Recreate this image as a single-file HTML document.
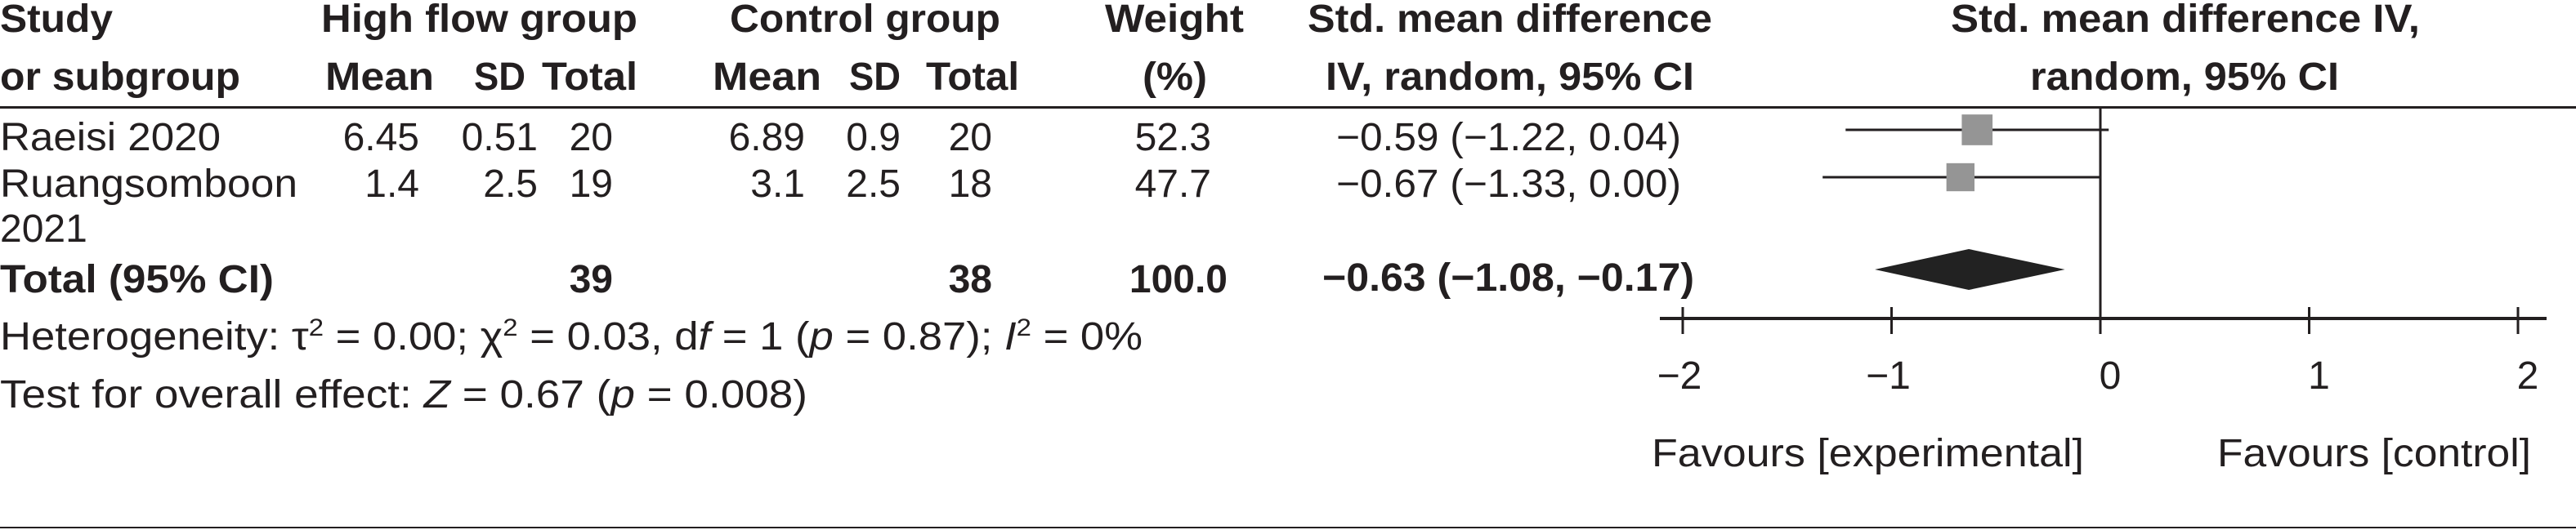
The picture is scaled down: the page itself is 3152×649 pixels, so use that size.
<!DOCTYPE html>
<html><head><meta charset="utf-8"><style>
html,body{margin:0;padding:0;background:#fff;}
svg{display:block;}
text{font-family:"Liberation Sans Narrow","Liberation Sans",sans-serif;font-size:48px;fill:#231f20;}
.b{font-weight:bold;}
</style></head><body>
<svg id="fp" width="3152" height="649" viewBox="0 0 3152 649" xmlns="http://www.w3.org/2000/svg">
<g id="hdr" class="b">
<text x="0" y="39" textLength="138" lengthAdjust="spacingAndGlyphs" class="b">Study</text>
<text x="0" y="110" textLength="294" lengthAdjust="spacingAndGlyphs" class="b">or subgroup</text>
<text x="393" y="39" textLength="387" lengthAdjust="spacingAndGlyphs" class="b">High flow group</text>
<text x="398" y="110" textLength="133" lengthAdjust="spacingAndGlyphs" class="b">Mean</text>
<text x="580" y="110" textLength="63" lengthAdjust="spacingAndGlyphs" class="b">SD</text>
<text x="663" y="110" textLength="117" lengthAdjust="spacingAndGlyphs" class="b">Total</text>
<text x="893" y="39" textLength="331" lengthAdjust="spacingAndGlyphs" class="b">Control group</text>
<text x="872" y="110" textLength="133" lengthAdjust="spacingAndGlyphs" class="b">Mean</text>
<text x="1039" y="110" textLength="63" lengthAdjust="spacingAndGlyphs" class="b">SD</text>
<text x="1133" y="110" textLength="114" lengthAdjust="spacingAndGlyphs" class="b">Total</text>
<text x="1352" y="39" textLength="170" lengthAdjust="spacingAndGlyphs" class="b">Weight</text>
<text x="1398" y="110" textLength="79" lengthAdjust="spacingAndGlyphs" class="b">(%)</text>
<text x="1600" y="39" textLength="495" lengthAdjust="spacingAndGlyphs" class="b">Std. mean difference</text>
<text x="1622" y="110" textLength="451" lengthAdjust="spacingAndGlyphs" class="b">IV, random, 95% CI</text>
<text x="2387" y="39" textLength="574" lengthAdjust="spacingAndGlyphs" class="b">Std. mean difference IV,</text>
<text x="2484" y="110" textLength="378" lengthAdjust="spacingAndGlyphs" class="b">random, 95% CI</text>
</g>
<rect x="0" y="130" width="3152" height="3" fill="#231f20"/>
<rect x="0" y="645" width="3152" height="2" fill="#231f20"/>
<g id="rows"></g>
<g id="foot">
<text x="0" y="428" textLength="1398" lengthAdjust="spacingAndGlyphs">Heterogeneity: τ<tspan font-size="30" dy="-17">2</tspan><tspan dy="17"> = 0.00; χ</tspan><tspan font-size="30" dy="-17">2</tspan><tspan dy="17"> = 0.03, d</tspan><tspan font-style="italic">f</tspan> = 1 (<tspan font-style="italic">p</tspan> = 0.87); <tspan font-style="italic">I</tspan><tspan font-size="30" dy="-17">2</tspan><tspan dy="17"> = 0%</tspan></text>
<text x="0" y="499" textLength="988" lengthAdjust="spacingAndGlyphs">Test for overall effect: <tspan font-style="italic">Z</tspan> = 0.67 (<tspan font-style="italic">p</tspan> = 0.008)</text>
</g>
<g id="plot"></g>
</svg>
<script>
// data
const studies = ["Raeisi 2020", "Ruangsomboon"];
const hfMean = ["6.45", "1.4"];
const hfSD = ["0.51", "2.5"];
const hfN = [20, 19];
const ctMean = ["6.89", "3.1"];
const ctSD = ["0.9", "2.5"];
const ctN = [20, 18];
const weights = [52.3, 47.7];
const smd = [-0.59, -0.67];
const ciLow = [-1.22, -1.33];
const ciHigh = [0.04, 0.00];
const totalSMD = -0.63;
const totalLow = -1.08;
const totalHigh = -0.17;
const ticks = [-2, -1, 0, 1, 2];
const tickLabels = ["−2", "−1", "0", "1", "2"];

const NS = "http://www.w3.org/2000/svg";
const X0 = 2570, UNIT = 255.5;
function xs(v){ return X0 + v * UNIT; }
const rowY = [159, 217];
const rowBase = [184, 241];
function fmt(v){ return (v < 0 ? "−" : "") + Math.abs(v).toFixed(2); }
function mk(tag, attrs, parent){ const e = document.createElementNS(NS, tag); for (const k in attrs) e.setAttribute(k, attrs[k]); parent.appendChild(e); return e; }
function txt(parent, s, x, y, anchor, cls){ const t = mk("text", {x: x, y: y, "text-anchor": anchor || "start"}, parent); if (cls) t.setAttribute("class", cls); t.textContent = s; return t; }

const rows = document.getElementById("rows");
const plot = document.getElementById("plot");
const cols = [[hfMean, 513], [hfSD, 658], [hfN, 750], [ctMean, 985], [ctSD, 1102], [ctN, 1214]];
for (let i = 0; i < studies.length; i++) {
  const g = mk("g", {}, rows);
  
  
  const t = txt(g, studies[i], 0, rowBase[i]);
  t.setAttribute("textLength", i === 0 ? 270 : 364);
  t.setAttribute("lengthAdjust", "spacingAndGlyphs");
  if (i === 1) txt(g, "2021", 0, 296);
  cols.forEach(c => txt(g, String(c[0][i]), c[1], rowBase[i], "end"));
  txt(g, weights[i].toFixed(1), 1482, rowBase[i], "end");
  const e = txt(g, fmt(smd[i]) + " (" + fmt(ciLow[i]) + ", " + fmt(ciHigh[i]) + ")", 2057, rowBase[i], "end");
  e.setAttribute("textLength", 422);
  e.setAttribute("lengthAdjust", "spacingAndGlyphs");
  const ci = mk("line", {x1: xs(ciLow[i]), x2: xs(ciHigh[i]), y1: rowY[i], y2: rowY[i], stroke: "#231f20", "stroke-width": 3}, plot);
  
  
  const sz = weights[i] * 0.72;
  const sq = mk("rect", {x: xs(smd[i]) - sz / 2, y: rowY[i] - sz / 2, width: sz, height: sz, fill: "#959595"}, plot);
  
  
}
const tg = mk("g", {}, rows);


const tt = txt(tg, "Total (95% CI)", 0, 358, "start", "b");
tt.setAttribute("textLength", 335); tt.setAttribute("lengthAdjust", "spacingAndGlyphs");
txt(tg, String(hfN.reduce((a, b) => a + b, 0)), 750, 358, "end", "b");
txt(tg, String(ctN.reduce((a, b) => a + b, 0)), 1214, 358, "end", "b");
txt(tg, weights.reduce((a, b) => a + b, 0).toFixed(1), 1502, 358, "end", "b");
const te = txt(tg, fmt(totalSMD) + " (" + fmt(totalLow) + ", " + fmt(totalHigh) + ")", 2073, 356, "end", "b");
te.setAttribute("textLength", 455); te.setAttribute("lengthAdjust", "spacingAndGlyphs");

const dm = mk("polygon", {points: xs(totalLow) + ",330 " + xs(totalSMD) + ",305 " + xs(totalHigh) + ",330 " + xs(totalSMD) + ",355", fill: "#222"}, plot);



const zl = mk("line", {x1: xs(0), x2: xs(0), y1: 132, y2: 409, stroke: "#231f20", "stroke-width": 3}, plot);


const ax = mk("line", {x1: 2031, x2: 3116, y1: 390, y2: 390, stroke: "#231f20", "stroke-width": 4}, plot);


ticks.forEach((v, i) => {
  const tk = mk("line", {x1: xs(v), x2: xs(v), y1: 376, y2: 409, stroke: "#231f20", "stroke-width": 3}, plot);
  
  
  const lb = txt(plot, tickLabels[i], xs(v) + (v < 0 ? -4 : 12), 476, "middle");
  
  
});
const f1 = txt(plot, "Favours [experimental]", 2021, 571);
f1.setAttribute("textLength", 529); f1.setAttribute("lengthAdjust", "spacingAndGlyphs");


const f2 = txt(plot, "Favours [control]", 2713, 571);
f2.setAttribute("textLength", 384); f2.setAttribute("lengthAdjust", "spacingAndGlyphs");


</script>
</body></html>
